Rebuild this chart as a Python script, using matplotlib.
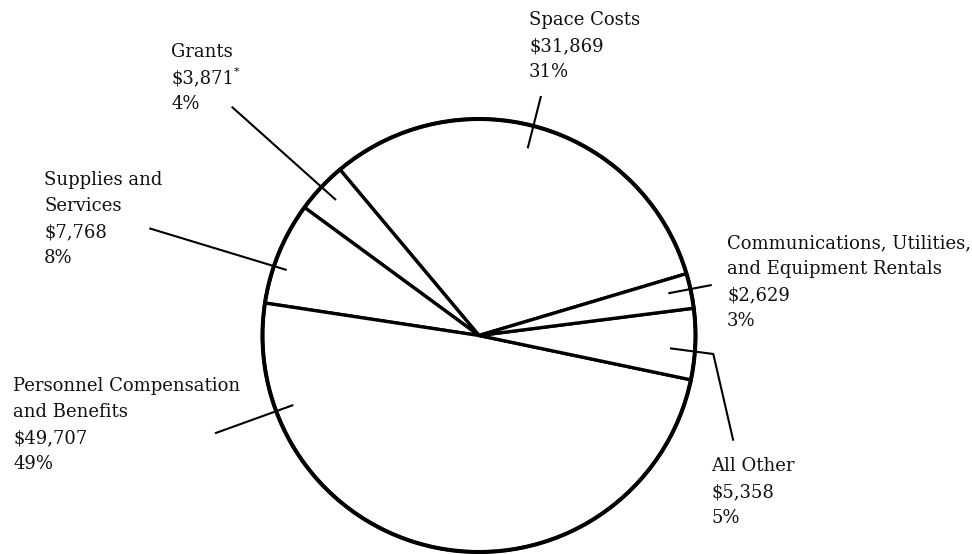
import matplotlib
matplotlib.use("Agg")
import matplotlib.pyplot as plt
from matplotlib.patches import Circle

# Expenditure breakdown (thousands of dollars), drawn counterclockwise
categories = ["Space Costs", "Grants", "Supplies and Services",
              "Personnel Compensation and Benefits", "All Other",
              "Communications, Utilities, and Equipment Rentals"]
amounts = [31869, 3871, 7768, 49707, 5358, 2629]
amount_labels = ["$31,869", "$3,871", "$7,768", "$49,707", "$5,358", "$2,629"]
percent_labels = ["31%", "4%", "8%", "49%", "5%", "3%"]
name_lines = [["Space Costs"], ["Grants"], ["Supplies and", "Services"],
              ["Personnel Compensation", "and Benefits"], ["All Other"],
              ["Communications, Utilities,", "and Equipment Rentals"]]

W, H = 972, 554
fig = plt.figure(figsize=(W / 100, H / 100), dpi=100)
ax = fig.add_axes([0, 0, 1, 1])

def py(y):
    """Convert a top-down pixel row to the axes' bottom-up coordinate."""
    return H - y

cx, cy, r = 479, py(335.5), 216.5
ax.pie(amounts, startangle=16.6, counterclock=True, center=(cx, cy), radius=r,
       wedgeprops=dict(facecolor="white", edgecolor="black", linewidth=2.4,
                       joinstyle="miter"))
ax.add_patch(Circle((cx, cy), r, facecolor="none", edgecolor="black",
                    linewidth=2.9, zorder=5))

ax.set_xlim(0, W)
ax.set_ylim(0, H)
ax.set_aspect("equal")
ax.axis("off")

font = dict(family="DejaVu Serif", fontsize=13, color="#111111")

# label anchor (left x) and first baseline for each slice, in pixel rows
label_pos = [(529, 25), (171, 57), (44, 185), (13, 391), (711, 471), (727, 248)]
line_step = 26

texts = {}
for i, (x0, y0) in enumerate(label_pos):
    lines = name_lines[i] + [amount_labels[i].replace("$", r"\$"), percent_labels[i]]
    for k, s in enumerate(lines):
        t = ax.text(x0, py(y0 + k * line_step), s, ha="left", va="baseline", **font)
        texts[(i, k)] = t

# footnote marker after the grants amount
ax.annotate("*", xy=(1.0, 0.55), xycoords=texts[(1, 1)], ha="left", va="bottom",
            family="DejaVu Serif", fontsize=8, color="#111111")

# leader lines from labels into their slices
leaders = [
    [(541, 96), (527.7, 148.3)],
    [(231.7, 106.7), (336, 200)],
    [(149.3, 228.3), (286.7, 270)],
    [(215, 433.3), (293.3, 405)],
    [(670, 348.3), (713.3, 354), (733.3, 440.7)],
    [(668.3, 293.3), (711.7, 285)],
]
for pts in leaders:
    xs = [p[0] for p in pts]
    ys = [py(p[1]) for p in pts]
    ax.plot(xs, ys, color="black", linewidth=1.5, solid_capstyle="butt", zorder=6)

fig.savefig("out.png", dpi=100, facecolor="white")
